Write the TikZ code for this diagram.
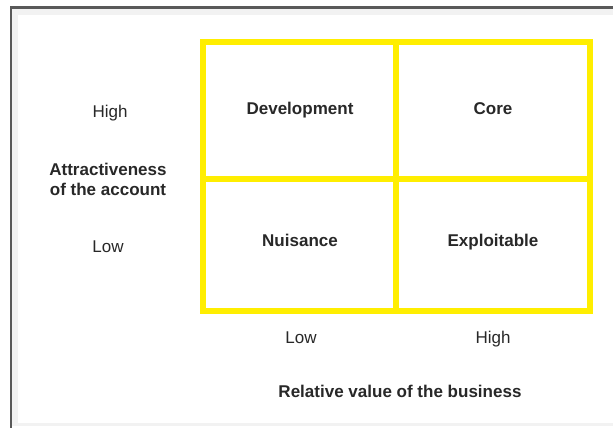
\documentclass[tikz,border=0pt]{standalone}
\usepackage{fontspec}
\setmainfont{Liberation Sans}
\usepackage{tikz}

\definecolor{gridyellow}{RGB}{255,238,0}
\definecolor{txtgray}{RGB}{40,40,40}

\begin{document}
\begin{tikzpicture}[x=0.025cm, y=-0.025cm,
    every node/.style={text=txtgray, font=\fontsize{12.1}{14.2}\selectfont, align=center, inner sep=0pt},
    lbl/.style={text height=0.72em, text depth=0pt},
    cell/.style={lbl, font=\fontsize{12.1}{14.2}\selectfont\bfseries},
    axis/.style={font=\fontsize{12.1}{14.2}\selectfont\bfseries}]
  \useasboundingbox (0,0) rectangle (613,428);
  % frame
  \fill[gray!10] (12,9) rectangle (613,426);
  \fill[white] (18,15) rectangle (613,423);
  \draw[black!65, line width=1.6pt] (613,7.5) -- (11,7.5) -- (11,428);
  % grid
  \draw[gridyellow, line width=3.6pt] (203,42) rectangle (590,311);
  \draw[gridyellow, line width=3.6pt] (396,42) -- (396,311);
  \draw[gridyellow, line width=3.6pt] (203,179) -- (590,179);
  % quadrants
  \node (dev) [cell] at (300,109) {Development};
  \node (core) [cell] at (493,109) {Core};
  \node (nuis) [cell] at (300,241) {Nuisance};
  \node (expl) [cell] at (493,241) {Exploitable};
  % vertical axis
  \node (yhigh) [lbl] at (110,112) {High};
  \node (ylab) [axis] at (108,179) {Attractiveness\\of the account};
  \node (ylow) [lbl] at (108,247) {Low};
  % horizontal axis
  \node (xlow) [lbl] at (301,338) {Low};
  \node (xhigh) [lbl] at (493,338) {High};
  \node (xlab) [axis, lbl] at (400,392) {Relative value of the business};
\end{tikzpicture}
\end{document}
